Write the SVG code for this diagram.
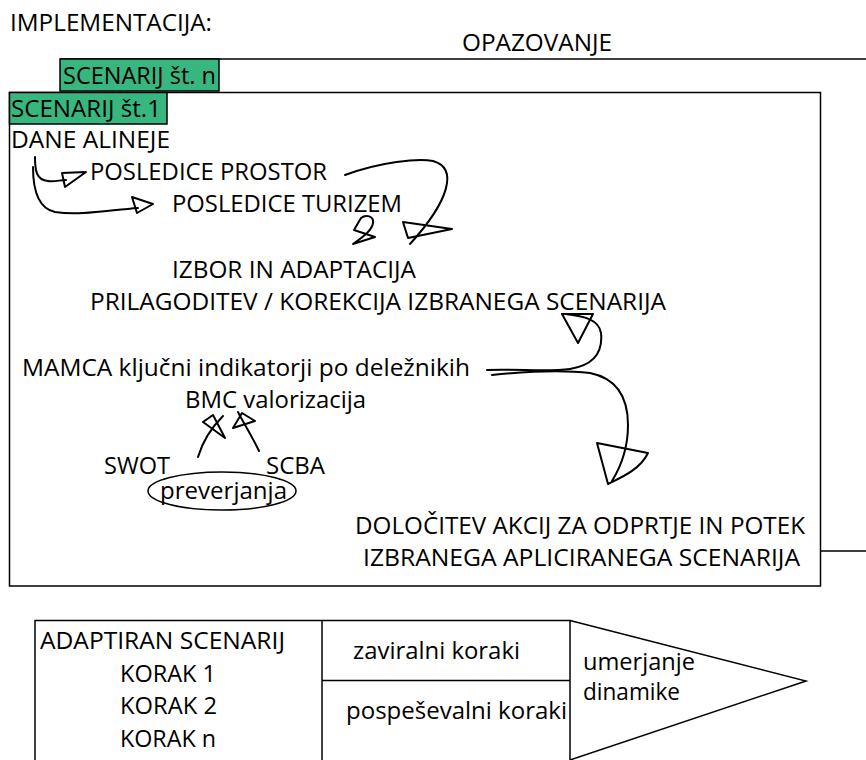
<svg xmlns="http://www.w3.org/2000/svg" width="866" height="760" viewBox="0 0 866 760">
  <style>
    text { font-family: "Open Sans", "Noto Sans", "DejaVu Sans", sans-serif; font-size: 24px; fill: #000; }
    .box { fill: #fff; stroke: #000; stroke-width: 1.5; }
    .tag { fill: #37b77f; stroke: #000; stroke-width: 1.5; }
    .line { fill: none; stroke: #000; stroke-width: 1.5; }
    .hand { fill: none; stroke: #000; stroke-width: 2; stroke-linecap: round; stroke-linejoin: round; }
  </style>

  <text id="title" x="10" y="31" textLength="202" lengthAdjust="spacingAndGlyphs">IMPLEMENTACIJA:</text>
  <text id="observe" x="462" y="51" textLength="150" lengthAdjust="spacingAndGlyphs">OPAZOVANJE</text>

  <!-- scenario n, the frame behind -->
  <g id="scenario-n">
    <path class="line" d="M60,59 H866 M821,551 H866"/>
    <rect class="tag" x="60" y="59" width="159" height="32"/>
    <text x="63" y="84" textLength="153" lengthAdjust="spacingAndGlyphs">SCENARIJ št. n</text>
  </g>

  <!-- scenario 1, the front frame -->
  <g id="scenario-1">
    <rect class="box" x="9.5" y="92.5" width="811" height="493.5"/>
    <rect class="tag" x="9.5" y="92.5" width="157.5" height="31.5"/>
    <text x="11" y="117" textLength="150" lengthAdjust="spacingAndGlyphs">SCENARIJ št.1</text>
  </g>

  <g id="dane-alineje"><text x="11" y="148" textLength="159" lengthAdjust="spacingAndGlyphs">DANE ALINEJE</text></g>
  <g id="posledice-prostor"><text x="90" y="180" textLength="237" lengthAdjust="spacingAndGlyphs">POSLEDICE PROSTOR</text></g>
  <g id="posledice-turizem"><text x="172" y="212" textLength="230" lengthAdjust="spacingAndGlyphs">POSLEDICE TURIZEM</text></g>
  <g id="izbor"><text x="172" y="278" textLength="244" lengthAdjust="spacingAndGlyphs">IZBOR IN ADAPTACIJA</text></g>
  <g id="prilagoditev"><text x="90" y="310" textLength="576" lengthAdjust="spacingAndGlyphs">PRILAGODITEV / KOREKCIJA IZBRANEGA SCENARIJA</text></g>
  <g id="mamca"><text x="22" y="376" textLength="448" lengthAdjust="spacingAndGlyphs">MAMCA ključni indikatorji po deležnikih</text></g>
  <g id="bmc"><text x="185" y="408" textLength="181" lengthAdjust="spacingAndGlyphs">BMC valorizacija</text></g>
  <g id="swot"><text x="104" y="474" textLength="66" lengthAdjust="spacingAndGlyphs">SWOT</text></g>
  <g id="scba"><text x="266" y="474" textLength="59" lengthAdjust="spacingAndGlyphs">SCBA</text></g>
  <g id="preverjanja">
    <ellipse class="line" cx="222" cy="491" rx="74" ry="19"/>
    <text x="160" y="499" textLength="127" lengthAdjust="spacingAndGlyphs">preverjanja</text>
  </g>
  <g id="dolocitev">
    <text x="355" y="534" textLength="450" lengthAdjust="spacingAndGlyphs">DOLOČITEV AKCIJ ZA ODPRTJE IN POTEK</text>
    <text x="363" y="566" textLength="437" lengthAdjust="spacingAndGlyphs">IZBRANEGA APLICIRANEGA SCENARIJA</text>
  </g>

  <!-- hand-drawn connectors -->
  <g id="connectors" class="hand">
    <path d="M35,157 C35,170 36,180 48,181 C55,182 60,180 66,180"/>
    <path d="M62,173 L86,172 L65,187 Z"/>
    <path d="M33,167 C33,185 36,208 55,212 C80,216 110,210 138,208"/>
    <path d="M132,197 L153,204 L137,213 Z"/>
    <path d="M345,175 C380,162 418,158 433,161 C458,168 450,200 410,244"/>
    <path d="M403,222 L452,229 L408,238 Z"/>
    <path d="M361,218 C366,214 374,216 373,223 C372,231 361,238 353,244 L375,237 L354,230 Z"/>
    <path d="M487,370 C520,369 550,372 570,369 C595,365 603,352 601,333 C599,320 585,316 565,314"/>
    <path d="M562,314 L593,314 L578,343 Z"/>
    <path d="M492,375 C530,371 565,370 590,373 C615,378 628,395 628,425 C628,450 620,468 612,481"/>
    <path d="M597,443 L648,453 C640,470 620,478 608,484 Z"/>
    <path d="M198,457 C203,440 212,427 223,416"/>
    <path d="M203,422 L213,415 L225,438 Z"/>
    <path d="M259,451 C252,436 244,424 238,412"/>
    <path d="M233,428 L242,413 L255,421 Z"/>
  </g>

  <!-- adapted scenario table -->
  <g id="adaptiran">
    <path class="line" d="M35,760 V620.5 H570 V760 M322,620.5 V760 M322,680.5 H570"/>
    <text x="40" y="649" textLength="245" lengthAdjust="spacingAndGlyphs">ADAPTIRAN SCENARIJ</text>
    <text x="120" y="682" textLength="96" lengthAdjust="spacingAndGlyphs">KORAK 1</text>
    <text x="120" y="714" textLength="97" lengthAdjust="spacingAndGlyphs">KORAK 2</text>
    <text x="120" y="747" textLength="96" lengthAdjust="spacingAndGlyphs">KORAK n</text>
  </g>
  <g id="koraki">
    <text x="353" y="659" textLength="167" lengthAdjust="spacingAndGlyphs">zaviralni koraki</text>
    <text x="346" y="719" textLength="221" lengthAdjust="spacingAndGlyphs">pospeševalni koraki</text>
  </g>
  <g id="umerjanje">
    <path class="line" d="M570,620.5 L806,681 L570,760"/>
    <text x="583" y="670" textLength="112" lengthAdjust="spacingAndGlyphs">umerjanje</text>
    <text x="583" y="700" textLength="97" lengthAdjust="spacingAndGlyphs">dinamike</text>
  </g>
</svg>
